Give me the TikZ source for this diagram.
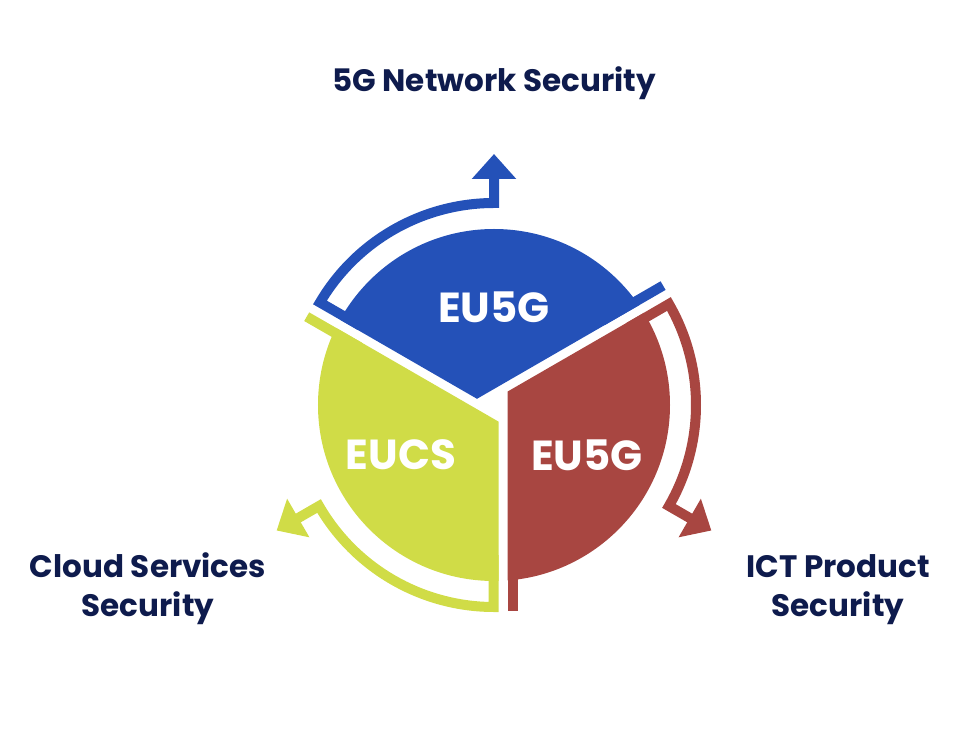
\documentclass[tikz,border=0pt]{standalone}
\usepackage{fontspec}
\setmainfont{Poppins}
\usetikzlibrary{arrows.meta}

\definecolor{eublue}{RGB}{36,81,184}
\definecolor{eugreen}{RGB}{208,220,71}
\definecolor{eured}{RGB}{168,70,65}
\definecolor{eunavy}{RGB}{14,27,77}

\begin{document}
\begin{tikzpicture}[x=1pt,y=1pt]
  % Base settings
  \tikzset{
    band/.style={line width=10pt, line join=miter},
    tab/.style={line width=10pt},
    headtip/.style={-{Triangle[width=43pt,length=25pt]}},
    heading/.style={text=eunavy, font=\bfseries\fontsize{31}{39}\selectfont, align=center},
    badge/.style={text=white, font=\bfseries\fontsize{42}{42}\selectfont}
  }

  \useasboundingbox (-494,-325) rectangle (482,405);

  % --- Sectors ---
  \begin{scope}
    \clip (-17,6.2) -- (-363.4,206.2) -- (-363.4,400) -- (329.4,400) -- (329.4,206.2) -- cycle;
    \fill[eublue] (0,0) circle[radius=176];
  \end{scope}

  \begin{scope}
    \clip (4.5,-16.6) -- (4.5,-300) -- (-400,-300) -- (-400,216.9) -- cycle;
    \fill[eugreen] (0,0) circle[radius=176];
  \end{scope}

  \begin{scope}
    \clip (13.5,13.4) -- (400,236.5) -- (400,-300) -- (13.5,-300) -- cycle;
    \fill[eured] (0,0) circle[radius=176];
  \end{scope}

  % --- Bands with arrows ---
  \draw[band, eublue, headtip]
    (-133.5,79.2) -- (149.5:202) arc[start angle=149.5, end angle=90, radius=202] -- (90:251);

  \draw[band, eured, headtip]
    (135,77.8) -- (30:202) arc[start angle=30, end angle=-30, radius=202] -- (-30:251);

  \draw[band, eugreen, headtip]
    (-0.5,-150) -- (-0.5,-202) arc[start angle=269.86, end angle=210, radius=202] -- (210:251);

  % --- Short tabs along the gaps ---
  \draw[tab, eublue] (108.2,84.2) -- (169.1,119.4);
  \draw[tab, eured] (18.5,-150) -- (18.5,-206.2);
  \draw[tab, eugreen] (-134.3,57.8) -- (-187.3,88.3);

  % --- Labels ---
  \node[badge] (lblnet) at (0,98) {EU5G};
  \node[badge] (lblcloud) at (-93,-50) {EUCS};
  \node[badge] (lblict) at (93,-50) {EU5G};

  \node[heading, anchor=base] (netsec) at (0,313) {5G Network Security};
  \node[heading, anchor=base] (cloudsec) at (-346,-211) {Cloud Services\\Security};
  \node[heading, anchor=base] (ictsec) at (344,-211) {ICT Product\\Security};
\end{tikzpicture}
\end{document}
